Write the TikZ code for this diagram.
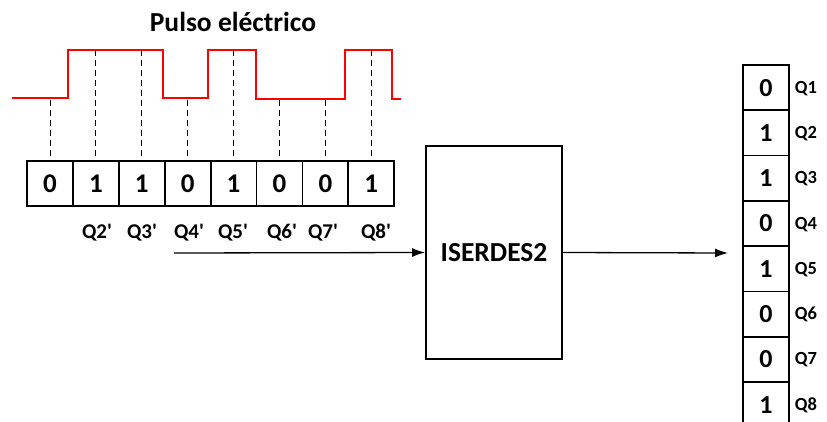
\documentclass[tikz,border=0pt]{standalone}
\usepackage{fontspec}
\setmainfont{Carlito}
\usetikzlibrary{arrows.meta}
\begin{document}
\begin{tikzpicture}[x=1pt,y=-1pt,
  cell/.style={draw,line width=1.8pt,minimum width=45.9pt,minimum height=45.3pt,inner sep=0pt,font=\fontsize{27}{27}\selectfont\bfseries},
  rcell/.style={draw,line width=1.8pt,minimum width=46pt,minimum height=45.3pt,inner sep=0pt,font=\fontsize{26}{26}\selectfont\bfseries},
  qlab/.style={anchor=base,inner sep=0pt,font=\fontsize{21}{21}\selectfont\bfseries},
  rqlab/.style={anchor=base,inner sep=0pt,font=\fontsize{18.5}{18.5}\selectfont\bfseries},
  block/.style={draw,line width=1.8pt,minimum width=136pt,minimum height=213pt,inner sep=0pt,font=\fontsize{27.5}{27.5}\selectfont\bfseries},
  pulse/.style={red,line width=1.8pt},
  guide/.style={line width=0.8pt,dash pattern=on 6pt off 4pt},
  flow/.style={line width=1.3pt,-{Latex[length=13pt,width=9pt]}}]
\clip (0,0) rectangle (827,422);
\fill[white] (0,0) rectangle (827,422);
% title
\node[anchor=base,inner sep=0pt,font=\fontsize{27.5}{27.5}\selectfont\bfseries] (title) at (233,32) {Pulso eléctrico};
% waveform
\draw[pulse] (12,98) -- (68,98) -- (68,50) -- (163,50) -- (163,98) -- (208,98) -- (208,50) -- (256,50) -- (256,99) -- (345,99) -- (345,50) -- (392,50) -- (392,99) -- (401,99);
% serial cells
\foreach \b [count=\k from 0] in {0,1,1,0,1,0,0,1} {
  \pgfmathsetmacro{\cx}{27+45.9*(\k+0.5)}
  \node[cell] (c\k) at (\cx,183.4) {\b};
  \pgfmathsetmacro{\ly}{\b==1 ? 50 : 100}
  \coordinate (p\k) at (\cx,\ly);
  \draw[guide] (p\k) -- (c\k.north);
}
% primed labels
\node[qlab] (q2) at (97,239) {Q2\textquotesingle};
\node[qlab] (q3) at (142,239) {Q3\textquotesingle};
\node[qlab] (q4) at (189,239) {Q4\textquotesingle};
\node[qlab] (q5) at (233,239) {Q5\textquotesingle};
\node[qlab] (q6) at (282,239) {Q6\textquotesingle};
\node[qlab] (q7) at (323,239) {Q7\textquotesingle};
\node[qlab] (q8) at (376,239) {Q8\textquotesingle};
% block
\node[block] (iser) at (494,252.5) {ISERDES2};
\coordinate (in) at (174,253);
\draw[flow] (in) -- (iser.west);
% output column
\foreach \b [count=\k from 1] in {0,1,1,0,1,0,0,1} {
  \pgfmathsetmacro{\cy}{65+45.3*(\k-0.5)}
  \node[rcell] (r\k) at (766,\cy) {\b};
  \node[rqlab] (rq\k) at (806,\cy+5.5) {Q\k};
}
\coordinate (out) at (728,253);
\draw[flow] (iser.east) -- (out);
\end{tikzpicture}
\end{document}
